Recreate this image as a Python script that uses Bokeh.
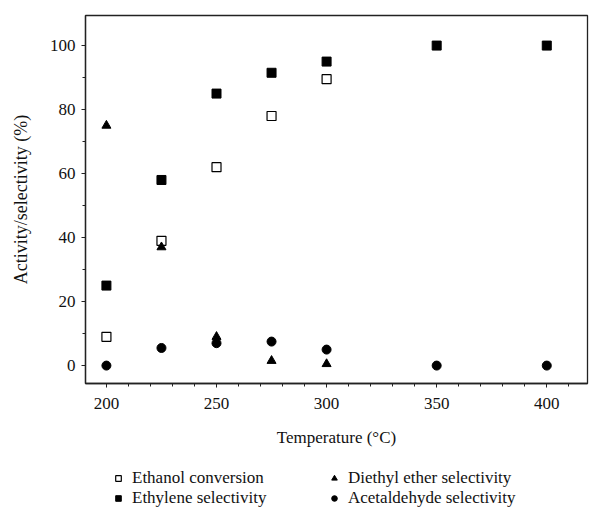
from bokeh.plotting import figure
from bokeh.layouts import column
from bokeh.models import Legend, LegendItem, Range1d, FixedTicker
from bokeh.embed import file_html
from bokeh.resources import INLINE

temps_conv = [200, 225, 250, 275, 300]
ethanol_conversion = [9, 39, 62, 78, 89.5]

temps_eth = [200, 225, 250, 275, 300, 350, 400]
ethylene_selectivity = [25, 58, 85, 91.5, 95, 100, 100]

temps_dee = [200, 225, 250, 275, 300]
diethyl_ether_selectivity = [75, 37, 9, 1.5, 0.5]

temps_acet = [200, 225, 250, 275, 300, 350, 400]
acetaldehyde_selectivity = [0, 5.5, 7, 7.5, 5, 0, 0]

x_ticks = [200, 250, 300, 350, 400]
y_ticks = [0, 20, 40, 60, 80, 100]

FONT = "Liberation Serif"
NAN = float("nan")

p = figure(width=592, height=455, output_backend="svg", toolbar_location=None,
           x_range=Range1d(190.5, 418.5), y_range=Range1d(-5.6, 109.4),
           min_border_left=85, min_border_right=5, min_border_top=15, min_border_bottom=72)
p.grid.visible = False
p.outline_line_color = "#222222"
p.outline_line_width = 1.3
p.background_fill_color = "white"
p.border_fill_color = "white"

p.xaxis.ticker = FixedTicker(ticks=x_ticks, minor_ticks=list(range(190, 420, 10)))
p.yaxis.ticker = FixedTicker(ticks=y_ticks, minor_ticks=list(range(0, 110, 10)))
for ax in (p.xaxis[0], p.yaxis[0]):
    ax.major_tick_in = 0
    ax.major_tick_out = 4
    ax.minor_tick_in = 0
    ax.minor_tick_out = 3
    ax.axis_line_color = "#222222"
    ax.axis_line_width = 1.3
    ax.major_tick_line_color = "#222222"
    ax.minor_tick_line_color = "#222222"
    ax.major_label_text_font = FONT
    ax.major_label_text_font_size = "17px"
    ax.major_label_text_color = "#111111"
    ax.axis_label_text_font = FONT
    ax.axis_label_text_font_style = "normal"
    ax.axis_label_text_color = "#111111"
p.xaxis.axis_label_text_font_size = "17px"
p.yaxis.axis_label_text_font_size = "18px"
p.xaxis.axis_label = "Temperature (°C)"
p.yaxis.axis_label = "Activity/selectivity (%)"
p.xaxis.major_label_standoff = 10
p.xaxis.axis_label_standoff = 16
p.yaxis.major_label_standoff = 6
p.yaxis.axis_label_standoff = 16

r1 = p.scatter(temps_conv, ethanol_conversion, marker="square", size=9,
               fill_color="white", line_color="black", line_width=1.2)
r2 = p.scatter(temps_eth, ethylene_selectivity, marker="square", size=9,
               fill_color="black", line_color="black")
r3 = p.scatter(temps_dee, diethyl_ether_selectivity, marker="triangle", size=9,
               fill_color="black", line_color="black")
r4 = p.scatter(temps_acet, acetaldehyde_selectivity, marker="circle", size=9,
               fill_color="black", line_color="black")

# legend strip below the plot (legend proxies hold NaN, so they draw nothing themselves)
lg = figure(width=592, height=56, output_backend="svg", toolbar_location=None,
            x_range=Range1d(0, 1), y_range=Range1d(0, 1),
            x_axis_location=None, y_axis_location=None,
            min_border_left=0, min_border_right=0, min_border_top=0, min_border_bottom=0)
lg.grid.visible = False
lg.outline_line_color = None
l1 = lg.scatter([NAN], [NAN], marker="square", size=8, fill_color="white", line_color="black", line_width=1.2)
l2 = lg.scatter([NAN], [NAN], marker="square", size=8, fill_color="black", line_color="black")
l3 = lg.scatter([NAN], [NAN], marker="triangle", size=8, fill_color="black", line_color="black")
l4 = lg.scatter([NAN], [NAN], marker="circle", size=8, fill_color="black", line_color="black")

legend = Legend(items=[
    LegendItem(label="Ethanol conversion", renderers=[l1]),
    LegendItem(label="Ethylene selectivity", renderers=[l2]),
    LegendItem(label="Diethyl ether selectivity", renderers=[l3]),
    LegendItem(label="Acetaldehyde selectivity", renderers=[l4]),
], ncols=2, border_line_color=None, background_fill_alpha=0,
    label_text_font=FONT, label_text_font_size="17px", label_text_color="#111111",
    glyph_width=14, glyph_height=14, spacing=-6, label_height=14, label_width=195,
    padding=0, margin=0, label_standoff=7, location=(26, 3))
lg.add_layout(legend, "center")

with open("out.html", "w") as f:
    f.write(file_html(column(p, lg, spacing=0), INLINE))
